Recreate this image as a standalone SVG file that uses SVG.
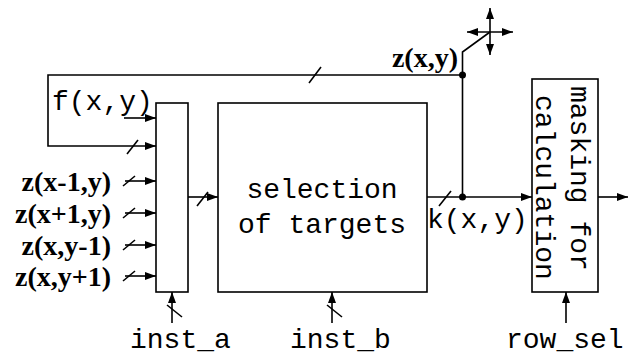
<svg xmlns="http://www.w3.org/2000/svg" width="636" height="356" viewBox="0 0 636 356">
<defs>
<marker id="ah" markerUnits="userSpaceOnUse" markerWidth="12" markerHeight="10" refX="11" refY="4" orient="auto-start-reverse"><path d="M0,0 L11,4 L0,8 Z" fill="#000"/></marker>
<style>
.ln{stroke:#000;stroke-width:1.6;fill:none}
.ar{stroke:#000;stroke-width:1.6;fill:none;marker-end:url(#ah)}
.box{stroke:#000;stroke-width:1.6;fill:#fff}
.mono{font-family:"Liberation Mono","Courier New",monospace;font-size:28px;fill:#000}
.ser{font-family:"Liberation Serif","Times New Roman",serif;font-size:28px;font-weight:bold;fill:#000}
</style>
</defs>
<rect width="636" height="356" fill="#fff"/>
<g id="mux"><rect class="box" x="156" y="103" width="32" height="189"/></g>
<g id="selection"><rect class="box" x="218" y="103" width="209" height="189"/>
<text class="mono" x="322" y="198" text-anchor="middle">selection</text>
<text class="mono" x="322" y="233" text-anchor="middle">of targets</text></g>
<g id="masking"><rect class="box" x="532" y="79" width="66" height="213"/>
<text class="mono" transform="rotate(90)" x="86" y="-571">masking for</text>
<text class="mono" transform="rotate(90)" x="95" y="-536">calculation</text></g>
<g id="labels">
<text class="mono" x="52" y="110">f(x,y)</text>
<text class="mono" x="427" y="228">k(x,y)</text>
<text class="mono" x="130" y="348">inst_a</text>
<text class="mono" x="290" y="348">inst_b</text>
<text class="mono" x="506" y="348">row_sel</text>
<text class="ser" x="458" y="67" text-anchor="end">z(x,y)</text>
<text class="ser" x="111" y="191" text-anchor="end">z(x-1,y)</text>
<text class="ser" x="111" y="223" text-anchor="end">z(x+1,y)</text>
<text class="ser" x="111" y="255" text-anchor="end">z(x,y-1)</text>
<text class="ser" x="111" y="286" text-anchor="end">z(x,y+1)</text>
</g>
<g id="connectors">
<path class="ar" d="M462.5,75 H48 V146 H156"/>
<path class="ar" d="M124,118 H156"/>
<path class="ar" d="M125,181 H156"/>
<path class="ar" d="M125,213 H156"/>
<path class="ar" d="M125,245 H156"/>
<path class="ar" d="M125,276 H156"/>
<path class="ar" d="M188,197 H218"/>
<path class="ar" d="M427,197 H532"/>
<path class="ar" d="M598,197 H628"/>
<path class="ln" d="M462.5,197 V52 L490,32"/>
<path class="ar" d="M467,32 H513" style="marker-start:url(#ah)"/>
<path class="ar" d="M490,8 V55" style="marker-start:url(#ah)"/>
<path class="ar" d="M172,323 V292"/>
<path class="ar" d="M332,323 V292"/>
<path class="ar" d="M566,323 V292"/>
<circle cx="462.5" cy="75" r="3.5" fill="#000"/>
<circle cx="462.5" cy="197" r="3.5" fill="#000"/>
<g class="ln">
<line x1="309" y1="83" x2="321" y2="67"/>
<line x1="127" y1="154" x2="138" y2="140"/>
<line x1="123" y1="186" x2="135" y2="176"/>
<line x1="123" y1="218" x2="135" y2="208"/>
<line x1="123" y1="250" x2="135" y2="240"/>
<line x1="123" y1="281" x2="135" y2="271"/>
<line x1="197" y1="206" x2="208" y2="192"/>
<line x1="439" y1="206" x2="451" y2="191"/>
<line x1="167" y1="305" x2="182" y2="317"/>
<line x1="327" y1="305" x2="342" y2="317"/>
</g>
</g>
</svg>
